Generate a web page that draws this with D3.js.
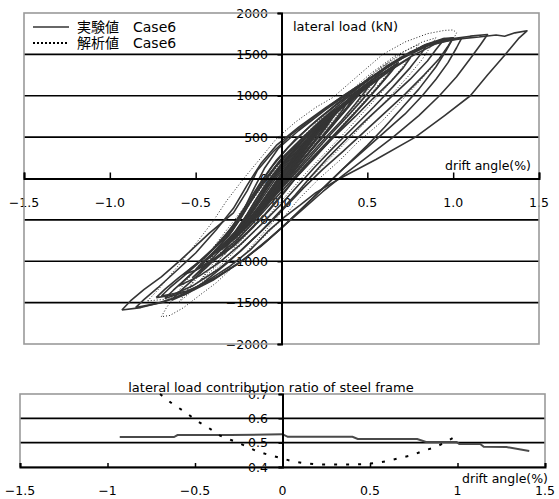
<!DOCTYPE html>
<html><head><meta charset="utf-8">
<script src="https://cdn.jsdelivr.net/npm/d3@7"></script>
<style>
html,body{margin:0;padding:0;background:#fff;}
text{font-family:"DejaVu Sans","Noto Sans CJK JP",sans-serif;font-size:12.5px;fill:#000;}
</style></head>
<body><svg id="c" width="559" height="499"></svg>
<script>
// ---------- DATA ----------
const mainXTicks = [-1.5, -1.0, -0.5, 0.0, 0.5, 1.0, 1.5];
const mainXTickLabels = ["\u22121.5", "\u22121.0", "\u22120.5", "0.0", "0.5", "1.0", "1.5"];
const mainYTicks = [-2000, -1500, -1000, -500, 0, 500, 1000, 1500, 2000];
const mainYTickLabels = ["\u22122000", "\u22121500", "\u22121000", "\u2212500", "0", "500", "1000", "1500", "2000"];
const legendLabels = ["実験値　Case6", "解析値　Case6"];
const mainYTitle = "lateral load (kN)";
const xTitle = "drift angle(%)";

// experimental hysteresis cycles [drift %, load kN]
const expCycle1 = [[-0.10,-290],[-0.08,-220],[-0.05,-120],[0.0,20],[0.05,160],[0.09,260],[0.12,330],[0.11,280],[0.08,170],[0.04,40],[0.0,-80],[-0.04,-180],[-0.08,-260],[-0.10,-290]];
const expCycle2 = [[-0.16,-450],[-0.14,-380],[-0.11,-280],[-0.06,-150],[0.0,10],[0.06,170],[0.11,310],[0.15,420],[0.19,530],[0.17,460],[0.13,350],[0.08,200],[0.03,50],[-0.02,-90],[-0.07,-230],[-0.12,-360],[-0.16,-450]];
const expCycle3 = [[-0.23,-620],[-0.2,-540],[-0.16,-440],[-0.1,-290],[-0.04,-120],[0.03,80],[0.1,270],[0.17,440],[0.23,600],[0.28,730],[0.26,650],[0.22,530],[0.16,370],[0.1,200],[0.04,40],[-0.03,-140],[-0.1,-320],[-0.17,-490],[-0.23,-620]];
const expCycle4 = [[-0.25,-650],[-0.21,-560],[-0.15,-410],[-0.08,-220],[0.0,0],[0.07,200],[0.15,400],[0.22,580],[0.30,760],[0.27,660],[0.21,500],[0.14,310],[0.07,120],[0.0,-70],[-0.07,-260],[-0.15,-450],[-0.21,-580],[-0.25,-650]];
const expCycle5 = [[-0.33,-820],[-0.29,-730],[-0.22,-570],[-0.15,-390],[-0.07,-180],[0.01,40],[0.09,250],[0.18,470],[0.27,680],[0.35,850],[0.42,970],[0.39,880],[0.33,730],[0.26,560],[0.18,360],[0.1,160],[0.02,-50],[-0.06,-250],[-0.14,-450],[-0.22,-620],[-0.28,-740],[-0.33,-820]];
const expCycle6 = [[-0.46,-1030],[-0.42,-950],[-0.35,-820],[-0.27,-640],[-0.2,-430],[-0.13,-200],[-0.05,40],[0.04,270],[0.14,500],[0.25,720],[0.37,920],[0.48,1100],[0.57,1220],[0.54,1120],[0.47,950],[0.38,740],[0.28,520],[0.18,290],[0.08,60],[-0.02,-170],[-0.12,-400],[-0.22,-600],[-0.32,-780],[-0.4,-920],[-0.46,-1030]];
const expCycle7 = [[-0.57,-1160],[-0.52,-1070],[-0.44,-940],[-0.35,-760],[-0.27,-560],[-0.2,-330],[-0.12,-100],[-0.03,150],[0.08,380],[0.22,640],[0.38,900],[0.52,1130],[0.63,1300],[0.75,1460],[0.71,1340],[0.64,1180],[0.53,960],[0.43,750],[0.31,510],[0.2,280],[0.1,50],[0.02,-160],[-0.07,-380],[-0.17,-600],[-0.28,-820],[-0.4,-1000],[-0.5,-1110],[-0.57,-1160]];
const expCycle8 = [[-0.73,-1440],[-0.68,-1340],[-0.6,-1200],[-0.5,-1040],[-0.4,-850],[-0.3,-620],[-0.22,-380],[-0.16,-120],[-0.1,120],[-0.02,360],[0.1,580],[0.25,820],[0.4,1040],[0.55,1260],[0.7,1460],[0.82,1600],[0.95,1690],[0.9,1560],[0.85,1420],[0.75,1200],[0.62,950],[0.5,720],[0.38,480],[0.27,250],[0.17,20],[0.08,-200],[-0.02,-420],[-0.12,-640],[-0.24,-880],[-0.37,-1100],[-0.52,-1300],[-0.64,-1410],[-0.73,-1440]];
const expCycle9 = [[-0.64,-1470],[-0.6,-1380],[-0.53,-1250],[-0.44,-1080],[-0.34,-880],[-0.25,-650],[-0.17,-380],[-0.09,-120],[0.0,170],[0.12,450],[0.28,760],[0.44,1050],[0.6,1320],[0.76,1530],[0.9,1650],[1.0,1700],[0.97,1600],[0.92,1450],[0.83,1250],[0.72,1020],[0.6,790],[0.48,560],[0.36,330],[0.24,110],[0.13,-110],[0.03,-330],[-0.08,-560],[-0.2,-800],[-0.32,-1030],[-0.45,-1250],[-0.56,-1400],[-0.64,-1470]];
const expCycle10 = [[-0.93,-1590],[-0.88,-1480],[-0.80,-1340],[-0.70,-1190],[-0.59,-990],[-0.42,-660],[-0.28,-415],[-0.2,-150],[-0.14,100],[-0.05,320],[0.05,520],[0.2,760],[0.36,1000],[0.52,1220],[0.7,1450],[0.85,1600],[0.95,1660],[1.05,1690],[1.15,1710],[1.25,1735],[1.3,1720],[1.36,1760],[1.43,1785],[1.38,1690],[1.30,1490],[1.20,1250],[1.10,1000],[0.95,760],[0.78,500],[0.55,230],[0.34,0],[0.2,-170],[0.11,-320],[0.02,-460],[-0.08,-640],[-0.18,-860],[-0.3,-1060],[-0.48,-1300],[-0.62,-1440],[-0.71,-1500],[-0.82,-1560],[-0.93,-1590]];
const expCycle11 = [[-0.38,-900],[-0.34,-810],[-0.27,-660],[-0.2,-470],[-0.13,-250],[-0.05,-20],[0.04,220],[0.14,450],[0.25,680],[0.36,890],[0.48,1100],[0.45,1010],[0.39,860],[0.31,670],[0.22,450],[0.12,220],[0.03,-10],[-0.06,-230],[-0.15,-450],[-0.24,-640],[-0.32,-790],[-0.38,-900]];
const expCycle12 = [[-0.2,-560],[-0.17,-480],[-0.13,-370],[-0.08,-230],[-0.02,-60],[0.05,130],[0.12,320],[0.18,480],[0.24,680],[0.22,600],[0.18,470],[0.12,300],[0.06,130],[0.0,-40],[-0.07,-220],[-0.14,-400],[-0.2,-560]];
const expCycle13 = [[-0.12,-350],[-0.1,-290],[-0.07,-200],[-0.03,-80],[0.02,60],[0.07,190],[0.11,300],[0.15,420],[0.13,360],[0.1,260],[0.06,130],[0.02,0],[-0.03,-130],[-0.08,-260],[-0.12,-350]];
const expCycle14 = [[-0.18,-500],[-0.16,-430],[-0.13,-340],[-0.09,-220],[-0.04,-70],[0.02,100],[0.08,270],[0.14,430],[0.22,620],[0.2,550],[0.16,430],[0.11,280],[0.05,110],[0.0,-50],[-0.06,-210],[-0.12,-360],[-0.18,-500]];
const expCycle15 = [[-0.28,-720],[-0.25,-640],[-0.2,-520],[-0.14,-360],[-0.08,-180],[-0.01,20],[0.06,220],[0.14,420],[0.22,610],[0.29,760],[0.34,860],[0.31,770],[0.26,640],[0.2,480],[0.13,300],[0.06,110],[-0.01,-80],[-0.08,-270],[-0.16,-460],[-0.22,-600],[-0.28,-720]];
const expCycle16 = [[-0.31,-770],[-0.27,-680],[-0.22,-560],[-0.17,-400],[-0.11,-200],[-0.05,0],[0.03,230],[0.12,450],[0.21,650],[0.3,820],[0.38,910],[0.36,840],[0.31,700],[0.24,520],[0.16,320],[0.08,110],[0.0,-90],[-0.08,-290],[-0.16,-480],[-0.24,-640],[-0.31,-770]];
const expCycle17 = [[-0.5,-1100],[-0.46,-1010],[-0.39,-880],[-0.31,-700],[-0.24,-490],[-0.17,-250],[-0.09,0],[0.0,240],[0.12,490],[0.25,740],[0.38,970],[0.5,1150],[0.58,1260],[0.65,1350],[0.62,1250],[0.56,1100],[0.47,890],[0.38,680],[0.28,450],[0.18,220],[0.08,0],[-0.01,-220],[-0.1,-440],[-0.2,-650],[-0.3,-840],[-0.41,-990],[-0.5,-1100]];
const expCycle18 = [[-0.6,-1300],[-0.55,-1200],[-0.47,-1050],[-0.38,-860],[-0.29,-640],[-0.21,-380],[-0.14,-120],[-0.06,130],[0.04,380],[0.17,640],[0.32,900],[0.48,1150],[0.62,1370],[0.75,1530],[0.85,1620],[0.81,1500],[0.75,1340],[0.65,1110],[0.54,870],[0.42,620],[0.3,370],[0.19,130],[0.09,-100],[-0.01,-330],[-0.12,-560],[-0.24,-800],[-0.36,-1010],[-0.48,-1180],[-0.6,-1300]];
const expCycle19 = [[-0.7,-1420],[-0.65,-1320],[-0.57,-1180],[-0.47,-1000],[-0.37,-800],[-0.28,-560],[-0.2,-300],[-0.12,-40],[-0.03,220],[0.08,470],[0.22,730],[0.38,990],[0.54,1240],[0.7,1460],[0.84,1620],[0.94,1690],[1.0,1700],[0.96,1550],[0.9,1350],[0.8,1080],[0.7,850],[0.6,620],[0.5,400],[0.4,200],[0.3,0],[0.2,-200],[0.1,-400],[0.0,-600],[-0.12,-820],[-0.26,-1040],[-0.4,-1220],[-0.55,-1360],[-0.7,-1420]];
const expCycle20 = [[-0.08,-220],[-0.06,-160],[-0.03,-80],[0.01,30],[0.05,140],[0.08,210],[0.1,280],[0.09,230],[0.06,140],[0.03,40],[-0.01,-60],[-0.05,-150],[-0.08,-220]];
const expCycle21 = [[-0.14,-400],[-0.12,-330],[-0.09,-240],[-0.05,-120],[0.0,20],[0.05,160],[0.1,300],[0.14,400],[0.17,470],[0.15,400],[0.11,290],[0.06,150],[0.01,10],[-0.04,-130],[-0.09,-270],[-0.14,-400]];
const expCycle22 = [[-0.22,-600],[-0.19,-520],[-0.15,-400],[-0.1,-250],[-0.05,-90],[0.01,90],[0.07,260],[0.13,420],[0.19,560],[0.26,700],[0.24,630],[0.2,520],[0.15,380],[0.09,210],[0.03,40],[-0.03,-130],[-0.09,-300],[-0.16,-460],[-0.22,-600]];
const expCycle23 = [[-0.26,-700],[-0.23,-620],[-0.18,-490],[-0.12,-320],[-0.06,-140],[0.0,40],[0.07,230],[0.14,420],[0.21,590],[0.27,720],[0.32,820],[0.3,740],[0.26,620],[0.2,460],[0.13,280],[0.06,90],[-0.01,-100],[-0.08,-290],[-0.15,-460],[-0.21,-590],[-0.26,-700]];
const expCycle24 = [[-0.35,-860],[-0.31,-770],[-0.25,-630],[-0.18,-440],[-0.11,-230],[-0.04,-20],[0.04,200],[0.13,420],[0.22,630],[0.32,830],[0.44,1020],[0.41,940],[0.36,800],[0.29,620],[0.2,410],[0.11,190],[0.03,-20],[-0.05,-230],[-0.13,-430],[-0.21,-600],[-0.28,-740],[-0.35,-860]];
const expCycle25 = [[-0.42,-960],[-0.38,-880],[-0.31,-740],[-0.23,-550],[-0.16,-330],[-0.09,-100],[0.0,140],[0.1,380],[0.21,610],[0.32,820],[0.43,1000],[0.52,1150],[0.49,1060],[0.43,900],[0.35,700],[0.25,480],[0.15,250],[0.06,30],[-0.03,-190],[-0.12,-410],[-0.21,-600],[-0.3,-760],[-0.37,-870],[-0.42,-960]];
const expCycle26 = [[-0.52,-1200],[-0.47,-1100],[-0.4,-960],[-0.31,-770],[-0.23,-540],[-0.16,-290],[-0.08,-30],[0.02,230],[0.14,490],[0.28,760],[0.42,1010],[0.55,1220],[0.68,1400],[0.64,1290],[0.57,1120],[0.48,910],[0.38,690],[0.27,450],[0.16,210],[0.06,-20],[-0.04,-250],[-0.14,-480],[-0.25,-720],[-0.36,-920],[-0.45,-1080],[-0.52,-1200]];
const expCycle27 = [[-0.05,-140],[-0.03,-80],[0.0,10],[0.03,100],[0.06,180],[0.05,130],[0.02,50],[-0.01,-40],[-0.05,-140]];
const expCycle28 = [[-0.85,-1560],[-0.8,-1460],[-0.72,-1320],[-0.62,-1130],[-0.5,-900],[-0.38,-620],[-0.28,-360],[-0.2,-80],[-0.12,180],[-0.03,400],[0.1,620],[0.26,860],[0.42,1080],[0.58,1300],[0.74,1500],[0.88,1630],[1.0,1690],[1.1,1720],[1.2,1740],[1.16,1620],[1.1,1450],[1.02,1230],[0.92,1000],[0.8,760],[0.65,500],[0.5,260],[0.36,40],[0.24,-160],[0.12,-380],[0.02,-560],[-0.1,-780],[-0.24,-1010],[-0.4,-1230],[-0.56,-1400],[-0.7,-1500],[-0.85,-1560]];
const expCycle29 = [[-0.68,-1450],[-0.63,-1350],[-0.55,-1200],[-0.45,-1010],[-0.35,-790],[-0.26,-540],[-0.18,-280],[-0.1,-20],[0.0,240],[0.13,500],[0.28,760],[0.44,1020],[0.6,1270],[0.76,1480],[0.9,1630],[1.05,1700],[1.02,1580],[0.97,1400],[0.9,1200],[0.82,1000],[0.72,780],[0.6,560],[0.48,340],[0.36,120],[0.26,-80],[0.15,-300],[0.04,-520],[-0.08,-740],[-0.22,-980],[-0.37,-1180],[-0.53,-1350],[-0.68,-1450]];
const expCycles = [expCycle1, expCycle2, expCycle3, expCycle4, expCycle5, expCycle6, expCycle7, expCycle8, expCycle9, expCycle10,
                   expCycle11, expCycle12, expCycle13, expCycle14, expCycle15, expCycle16, expCycle17, expCycle18, expCycle19, expCycle20,
                   expCycle21, expCycle22, expCycle23, expCycle24, expCycle25, expCycle26, expCycle27, expCycle28, expCycle29];

// analysis hysteresis cycles [drift %, load kN]
const anaCycle1 = [[-0.78,-1480],[-0.7,-1300],[-0.6,-1050],[-0.5,-790],[-0.4,-520],[-0.32,-270],[-0.22,0],[-0.12,250],[-0.03,480],[0.08,680],[0.2,860],[0.3,980],[0.45,1250],[0.59,1500],[0.72,1650],[0.85,1750],[0.95,1790],[1.0,1795],[1.02,1760],[1.0,1680],[0.95,1540],[0.88,1350],[0.78,1120],[0.68,900],[0.58,680],[0.45,450],[0.34,220],[0.22,0],[0.1,-250],[0.0,-500],[-0.12,-740],[-0.26,-1000],[-0.4,-1230],[-0.55,-1390],[-0.68,-1460],[-0.78,-1480]];
const anaCycle2 = [[-0.70,-1670],[-0.67,-1560],[-0.6,-1360],[-0.5,-1100],[-0.4,-840],[-0.3,-570],[-0.2,-300],[-0.1,-40],[0.0,220],[0.12,480],[0.25,760],[0.4,1030],[0.55,1300],[0.7,1520],[0.82,1650],[0.9,1700],[0.87,1600],[0.82,1440],[0.74,1240],[0.64,1010],[0.53,770],[0.42,530],[0.3,280],[0.18,30],[0.07,-230],[-0.03,-480],[-0.14,-740],[-0.28,-1065],[-0.38,-1260],[-0.47,-1400],[-0.57,-1560],[-0.65,-1655],[-0.70,-1670]];
const anaCycle3 = [[-0.55,-1350],[-0.5,-1200],[-0.42,-980],[-0.33,-730],[-0.24,-470],[-0.15,-210],[-0.06,50],[0.04,300],[0.16,570],[0.3,850],[0.45,1120],[0.58,1340],[0.7,1500],[0.66,1380],[0.58,1170],[0.48,930],[0.37,680],[0.26,420],[0.15,160],[0.04,-100],[-0.07,-370],[-0.19,-650],[-0.31,-920],[-0.43,-1160],[-0.55,-1350]];
const anaCycle4 = [[-0.4,-1080],[-0.35,-950],[-0.27,-730],[-0.18,-470],[-0.09,-200],[0.0,60],[0.1,320],[0.22,600],[0.36,900],[0.52,1250],[0.47,1100],[0.38,860],[0.28,600],[0.17,330],[0.06,60],[-0.05,-220],[-0.17,-510],[-0.29,-800],[-0.4,-1080]];
const anaCycle5 = [[-0.27,-780],[-0.22,-640],[-0.14,-420],[-0.05,-150],[0.04,120],[0.14,390],[0.25,660],[0.36,950],[0.31,790],[0.22,540],[0.12,270],[0.01,-20],[-0.1,-310],[-0.2,-580],[-0.27,-780]];
const anaCycle6 = [[-0.6,-1500],[-0.55,-1360],[-0.47,-1140],[-0.38,-880],[-0.29,-610],[-0.2,-340],[-0.11,-80],[-0.01,190],[0.1,450],[0.23,730],[0.37,1000],[0.52,1270],[0.66,1480],[0.8,1620],[0.76,1500],[0.69,1310],[0.6,1080],[0.49,830],[0.38,580],[0.26,320],[0.14,60],[0.03,-200],[-0.08,-460],[-0.2,-730],[-0.33,-1000],[-0.46,-1250],[-0.6,-1500]];
const anaCycle7 = [[-0.47,-1220],[-0.42,-1090],[-0.35,-880],[-0.26,-620],[-0.17,-350],[-0.08,-80],[0.02,190],[0.13,460],[0.26,740],[0.41,1040],[0.55,1270],[0.62,1400],[0.58,1280],[0.5,1060],[0.4,800],[0.29,540],[0.18,280],[0.07,20],[-0.04,-250],[-0.16,-530],[-0.28,-800],[-0.38,-1020],[-0.47,-1220]];
const anaCycle8 = [[-0.33,-920],[-0.29,-810],[-0.22,-620],[-0.13,-360],[-0.04,-100],[0.06,170],[0.17,450],[0.3,750],[0.45,1120],[0.41,1000],[0.33,780],[0.23,520],[0.12,250],[0.01,-20],[-0.1,-300],[-0.22,-600],[-0.33,-920]];
const anaCycle9 = [[-0.2,-600],[-0.16,-490],[-0.09,-290],[0.0,-30],[0.09,230],[0.19,500],[0.28,760],[0.24,640],[0.16,410],[0.07,160],[-0.03,-110],[-0.13,-370],[-0.2,-600]];
const anaCycle10 = [[-0.12,-380],[-0.08,-270],[-0.02,-90],[0.05,110],[0.12,310],[0.18,500],[0.15,400],[0.09,230],[0.02,40],[-0.05,-160],[-0.12,-380]];
const anaCycles = [anaCycle1, anaCycle2, anaCycle3, anaCycle4, anaCycle5, anaCycle6, anaCycle7, anaCycle8, anaCycle9, anaCycle10];

// lower chart: contribution ratio of steel frame
const subXTicks = [-1.5, -1, -0.5, 0, 0.5, 1, 1.5];
const subXTickLabels = ["\u22121.5", "\u22121", "\u22120.5", "0", "0.5", "1", "1.5"];
const subYTicks = [0.4, 0.5, 0.6, 0.7];
const subYTickLabels = ["0.4", "0.5", "0.6", "0.7"];
const subTitle = "lateral load contribution ratio of steel frame";
const expRatioDrift = [-0.93,-0.62,-0.60,-0.30,0.0,0.03,0.40,0.43,0.77,0.82,0.995,1.01,1.13,1.15,1.28,1.41];
const expRatio      = [0.523,0.523,0.531,0.531,0.535,0.524,0.524,0.515,0.515,0.503,0.503,0.495,0.495,0.483,0.482,0.466];
const anaRatioDrift = [-0.70,-0.63,-0.555,-0.49,-0.42,-0.36,-0.29,-0.21,-0.15,-0.08,0.05,0.12,0.20,0.26,0.40,0.47,0.54,0.60,0.67,0.75,0.80,0.87,0.94,1.00];
const anaRatio      = [0.70,0.66,0.625,0.59,0.56,0.53,0.51,0.486,0.466,0.45,0.425,0.416,0.41,0.41,0.41,0.412,0.417,0.425,0.437,0.45,0.466,0.48,0.505,0.53];

// ---------- DRAW ----------
const svg = d3.select("#c");
const GRID = "#000", BORDER = "#9a9a9a", EXP = "#353535";

// ===== main chart =====
const x = d3.scaleLinear().domain([-1.5, 1.5]).range([24, 539]);
const y = d3.scaleLinear().domain([-2000, 2000]).range([344, 13]);
const m = svg.append("g");

m.selectAll("text.yl").data(mainYTicks).join("text")
  .attr("x", 268).attr("y", d => y(d)).attr("dy", "0.36em")
  .attr("text-anchor", "end").text((d, i) => mainYTickLabels[i]);
m.selectAll("text.xl").data(mainXTicks).join("text")
  .attr("x", d => x(d)).attr("y", y(0) + 28)
  .attr("text-anchor", "middle").text((d, i) => mainXTickLabels[i]);

m.selectAll("line.g").data(mainYTicks.filter(d => d !== 0 && Math.abs(d) !== 2000)).join("line")
  .attr("x1", x(-1.5)).attr("x2", x(1.5)).attr("y1", d => y(d)).attr("y2", d => y(d))
  .attr("stroke", GRID).attr("stroke-width", 1.6);
m.append("rect").attr("x", x(-1.5)).attr("y", y(2000))
  .attr("width", x(1.5) - x(-1.5)).attr("height", y(-2000) - y(2000))
  .attr("fill", "none").attr("stroke", BORDER).attr("stroke-width", 1.6);

const line = d3.line().x(d => x(d[0])).y(d => y(d[1]));
m.selectAll("path.ana").data(anaCycles).join("path")
  .attr("d", line).attr("fill", "none").attr("stroke", "#222")
  .attr("stroke-width", 1).attr("stroke-dasharray", "1,2");
m.selectAll("path.exp").data(expCycles).join("path")
  .attr("d", line).attr("fill", "none").attr("stroke", EXP)
  .attr("stroke-width", 1.6).attr("stroke-linejoin", "round");

const xAxis = d3.axisTop(x).tickValues(mainXTicks.filter(d => d !== 0)).tickSize(6).tickFormat("");
const gx = m.append("g").attr("transform", `translate(0,${y(0)})`).call(xAxis);
gx.select(".domain").attr("stroke", GRID).attr("stroke-width", 2);
gx.selectAll(".tick line").attr("stroke", GRID).attr("stroke-width", 1.5);
const yAxis = d3.axisLeft(y).tickValues(mainYTicks).tickSize(4).tickFormat("");
const gy = m.append("g").attr("transform", `translate(${x(0)},0)`).call(yAxis);
gy.select(".domain").attr("stroke", GRID).attr("stroke-width", 2);
gy.selectAll(".tick line").attr("stroke", GRID).attr("stroke-width", 1.5);

m.append("text").attr("x", 293).attr("y", 31).style("font-size", "13px").text(mainYTitle);
m.append("text").attr("x", 531).attr("y", y(0) - 9).attr("text-anchor", "end").text(xTitle);

const lg = m.append("g");
lg.append("line").attr("x1", 33).attr("x2", 69).attr("y1", 27).attr("y2", 27)
  .attr("stroke", EXP).attr("stroke-width", 1.5);
lg.append("line").attr("x1", 33).attr("x2", 69).attr("y1", 43).attr("y2", 43)
  .attr("stroke", "#000").attr("stroke-width", 2.2).attr("stroke-dasharray", "2,2");
lg.selectAll("text").data(legendLabels).join("text")
  .attr("x", 77).attr("y", (d, i) => 27 + 16 * i).attr("dy", "0.38em")
  .style("font-size", "14px").text(d => d);

// ===== sub chart =====
const sx = d3.scaleLinear().domain([-1.5, 1.5]).range([20, 545]);
const sy = d3.scaleLinear().domain([0.4, 0.7]).range([467, 394]);
const s = svg.append("g");

s.selectAll("text.yl").data(subYTicks).join("text")
  .attr("x", 268).attr("y", d => sy(d)).attr("dy", "0.36em")
  .attr("text-anchor", "end").text((d, i) => subYTickLabels[i]);
s.selectAll("text.xl").data(subXTicks).join("text")
  .attr("x", d => sx(d)).attr("y", 495)
  .attr("text-anchor", "middle").text((d, i) => subXTickLabels[i]);

s.selectAll("line.g").data(subYTicks.filter(d => d > 0.41 && d < 0.69)).join("line")
  .attr("x1", sx(-1.5)).attr("x2", sx(1.5)).attr("y1", d => sy(d)).attr("y2", d => sy(d))
  .attr("stroke", GRID).attr("stroke-width", 1.6);
s.append("rect").attr("x", sx(-1.5)).attr("y", sy(0.7))
  .attr("width", sx(1.5) - sx(-1.5)).attr("height", sy(0.4) - sy(0.7))
  .attr("fill", "none").attr("stroke", BORDER).attr("stroke-width", 1.6);

const sline = d3.line().x(d => sx(d[0])).y(d => sy(d[1]));
s.append("path").datum(expRatioDrift.map((d, i) => [d, expRatio[i]]))
  .attr("d", sline).attr("fill", "none").attr("stroke", "#4a4a4a").attr("stroke-width", 2);
s.append("path").datum(anaRatioDrift.map((d, i) => [d, anaRatio[i]]))
  .attr("d", sline).attr("fill", "none").attr("stroke", "#000").attr("stroke-width", 2)
  .attr("stroke-dasharray", "3,9");

const sxAxis = d3.axisTop(sx).tickValues(subXTicks.filter(d => d !== 0)).tickSize(4).tickFormat("");
const sgx = s.append("g").attr("transform", `translate(0,${sy(0.4)})`).call(sxAxis);
sgx.select(".domain").attr("stroke", GRID).attr("stroke-width", 2);
sgx.selectAll(".tick line").attr("stroke", GRID).attr("stroke-width", 1.5);
const syAxis = d3.axisLeft(sy).tickValues(subYTicks).tickSize(4).tickFormat("");
const sgy = s.append("g").attr("transform", `translate(${sx(0)},0)`).call(syAxis);
sgy.select(".domain").attr("stroke", GRID).attr("stroke-width", 2);
sgy.selectAll(".tick line").attr("stroke", GRID).attr("stroke-width", 1.5);

s.append("text").attr("x", 271).attr("y", 392).attr("text-anchor", "middle").style("font-size", "13px").text(subTitle);
s.append("text").attr("x", 548).attr("y", 483).attr("text-anchor", "end").text(xTitle);
</script></body></html>
